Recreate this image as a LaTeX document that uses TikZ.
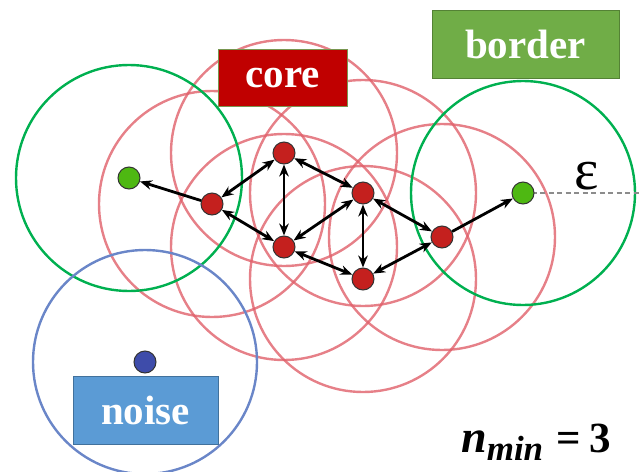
\documentclass[tikz,border=0pt]{standalone}
\usepackage{fontspec}
\setmainfont{Liberation Serif}
\usetikzlibrary{arrows.meta}
\definecolor{ringred}{RGB}{224,96,106}
\definecolor{ringgreen}{RGB}{0,176,80}
\definecolor{ringblue}{RGB}{106,134,200}
\definecolor{ptred}{RGB}{196,32,30}
\definecolor{ptgreen}{RGB}{78,184,18}
\definecolor{ptblue}{RGB}{62,76,170}
\definecolor{corefill}{RGB}{192,0,0}
\definecolor{coreedge}{RGB}{120,150,80}
\definecolor{borderfill}{RGB}{112,173,71}
\definecolor{borderedge}{RGB}{84,130,53}
\definecolor{noisefill}{RGB}{91,155,213}
\definecolor{noiseedge}{RGB}{65,113,156}
\tikzset{
  pt/.style={circle, draw=black!80, line width=1pt, minimum size=22pt, inner sep=0pt},
  corept/.style={pt, fill=ptred},
  borderpt/.style={pt, fill=ptgreen},
  noisept/.style={pt, fill=ptblue},
  ring/.style={line width=2.4pt},
  redring/.style={ring, draw=ringred, draw opacity=0.8},
  greenring/.style={ring, draw=ringgreen},
  bluering/.style={ring, draw=ringblue},
  lbl/.style={text=white, font=\fontsize{41}{41}\selectfont\bfseries, inner sep=0pt, line width=0.8pt},
  link/.style={line width=2.8pt, black, {Stealth[length=12pt,width=9.5pt]}-{Stealth[length=12pt,width=9.5pt]}},
  onelink/.style={line width=2.8pt, black, -{Stealth[length=12pt,width=9.5pt]}},
}
\begin{document}
\begin{tikzpicture}[x=1pt,y=-1pt]
\useasboundingbox (0,0) rectangle (641,472);
% point positions
\coordinate (pg1) at (129,178);
\coordinate (pa) at (212,204);
\coordinate (pb) at (284,153);
\coordinate (pc) at (363,193);
\coordinate (pd) at (284,247);
\coordinate (pe) at (363,279);
\coordinate (pf) at (442,237);
\coordinate (pg2) at (523,193);
\coordinate (pn) at (145,362);
% rings
\foreach \p in {pa,pb,pc,pd,pe,pf} \draw[redring] (\p) circle (113);
\draw[greenring] (pg1) circle (113);
\draw[greenring] (pg2) circle (112);
\draw[bluering] (pn) circle (112);
% epsilon radius
\coordinate (epsend) at (641,193);
\draw[black!45, dash pattern=on 5pt off 3.5pt, line width=1.8pt] (pg2) -- (epsend);
\node[anchor=base, inner sep=0pt, font=\fontsize{58}{58}\selectfont] (eps) at (587,189) {ε};
% labels
\node[lbl, fill=corefill, draw=coreedge, minimum width=129pt, minimum height=57pt] (core) at (282.5,77.5) {core};
\node[lbl, fill=borderfill, draw=borderedge, minimum width=187pt, minimum height=68pt] (border) at (525.5,44) {border};
\node[lbl, fill=noisefill, draw=noiseedge, minimum width=145pt, minimum height=68pt] (noise) at (145.5,410) {noise};
% points
\node[borderpt] (g1) at (pg1) {};
\node[corept] (a) at (pa) {};
\node[corept] (b) at (pb) {};
\node[corept] (c) at (pc) {};
\node[corept] (d) at (pd) {};
\node[corept] (e) at (pe) {};
\node[corept] (f) at (pf) {};
\node[borderpt] (g2) at (pg2) {};
\node[noisept] (n) at (pn) {};
% connections
\draw[onelink] (a) -- (g1);
\draw[link] (a) -- (b);
\draw[link] (a) -- (d);
\draw[link] (b) -- (c);
\draw[link] (b) -- (d);
\draw[link] (d) -- (c);
\draw[link] (c) -- (e);
\draw[link] (d) -- (e);
\draw[link] (c) -- (f);
\draw[link] (e) -- (f);
\draw[onelink] (f) -- (g2);
% parameter
\node[anchor=base west, inner sep=0pt] (nmin) at (461,452) {\bfseries\itshape\fontsize{46}{46}\selectfont n\raisebox{-8pt}{\fontsize{35}{35}\selectfont min}\hspace{13pt}\upshape\fontsize{43}{43}\selectfont=\hspace{9pt}3};
\end{tikzpicture}
\end{document}
